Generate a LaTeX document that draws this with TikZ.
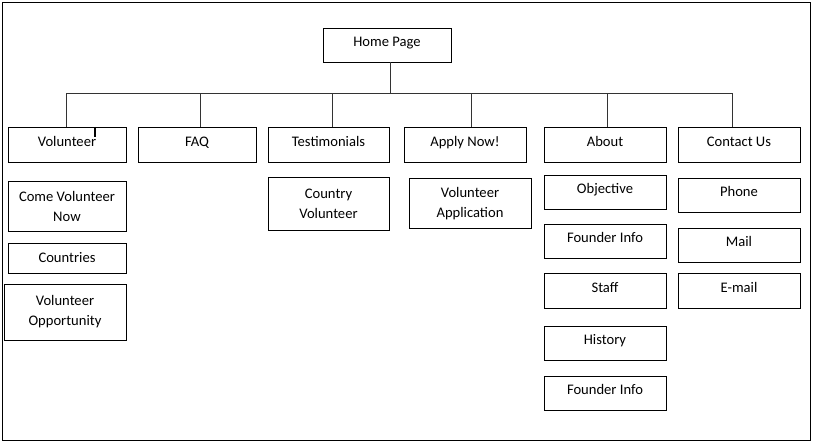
\documentclass[tikz,border=0pt]{standalone}
\usepackage{fontspec}
\setmainfont{Carlito}
\usepackage{tikz}
\usetikzlibrary{positioning,calc}

\begin{document}
\begin{tikzpicture}[x=1pt, y=-1pt,
  tall/.style={rectangle, draw=black, line width=0.8pt, fill=white, align=center, inner sep=0pt, minimum width=122pt, minimum height=34pt, font=\fontsize{14.6}{20}\selectfont},
  box/.style={tall, text height=10pt, text depth=6.5pt},
  link/.style={draw=black!80, line width=0.8pt}]
\useasboundingbox (0,0) rectangle (815,443);
\draw[line width=0.8pt] (2,2) rectangle (810,440);
% top of the tree
\node[box, minimum width=128pt] (home) at (387,45) {Home Page};
\node[box, minimum width=118pt, minimum height=35pt] (vol) at (67,144.5) {Volunteer};
\node[box, minimum width=118pt, minimum height=35pt] (faq) at (197,144.5) {FAQ};
\node[box, minimum width=121pt, minimum height=35pt] (test) at (328.5,144.5) {Testimonials};
\node[box, minimum height=35pt] (apply) at (465,144.5) {Apply Now!};
\node[box, minimum height=35pt] (about) at (605,144.5) {About};
\node[box, minimum height=35pt] (contact) at (739,144.5) {Contact Us};
% pages under each section
\node[tall, minimum width=118pt, minimum height=50pt] (comevol) at (67,206) {Come Volunteer\\Now};
\node[tall, minimum width=118pt, minimum height=30pt] (countries) at (67,258) {Countries};
\node[tall, minimum height=56pt] (opport) at (65,312) {Volunteer\\Opportunity};
\node[tall, minimum width=121pt, minimum height=53pt] (countryvol) at (328.5,203.5) {Country\\Volunteer};
\node[tall, minimum height=50pt] (volapp) at (470,203.5) {Volunteer\\Application};
\node[box] (objective) at (605,192) {Objective};
\node[box] (founder) at (605,241) {Founder Info};
\node[box, minimum height=35pt] (staff) at (605,290.5) {Staff};
\node[box] (history) at (605,343) {History};
\node[box] (founderb) at (605,393) {Founder Info};
\node[box] (phone) at (739,195) {Phone};
\node[box] (mail) at (739,245) {Mail};
\node[box, minimum height=35pt] (email) at (739,290.5) {E-mail};
% connectors
\coordinate (bus) at (0,93);
\draw[link] ([xshift=3pt]home.south) -- ([xshift=3pt]home.south |- bus);
\draw[link] ([xshift=-1pt]vol.north |- bus) -- ([xshift=-7pt]contact.north |- bus);
\foreach \n/\dx in {vol/-1,faq/3,test/3.5,apply/6,about/2,contact/-7}
  \draw[link] ([xshift=\dx pt]\n.north) -- ([xshift=\dx pt]\n.north |- bus);
\draw[line width=1.5pt] (95,127) -- (95,137);
\end{tikzpicture}
\end{document}
